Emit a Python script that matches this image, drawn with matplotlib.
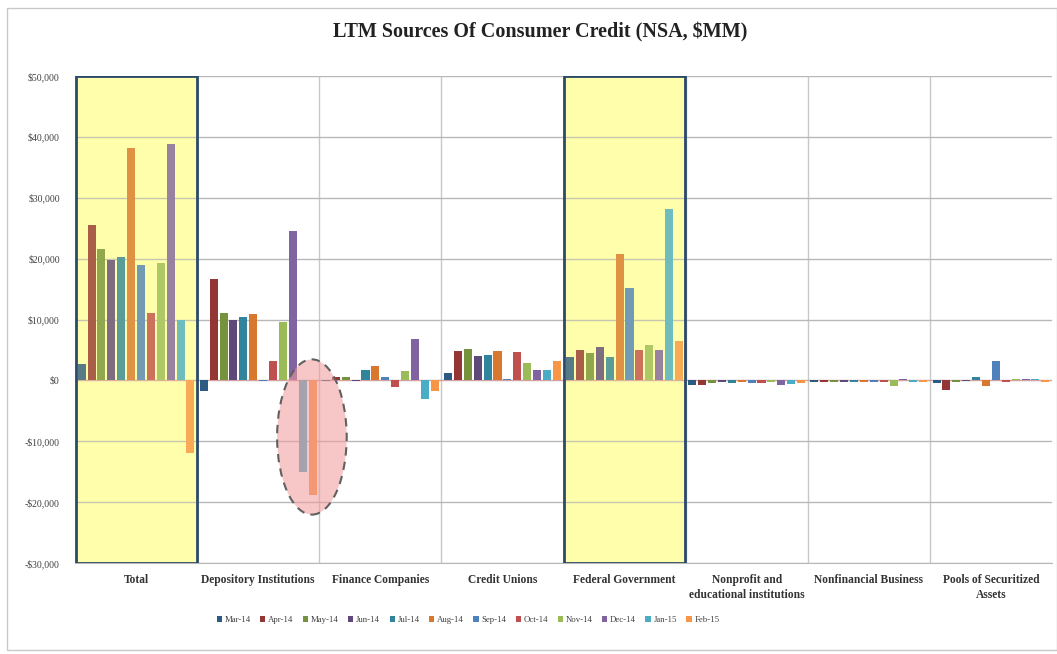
import numpy as np
import matplotlib
matplotlib.use('Agg')
import matplotlib.pyplot as plt
from matplotlib.patches import Rectangle, Ellipse

# data ($MM)
categories = ['Total', 'Depository Institutions', 'Finance Companies', 'Credit Unions',
              'Federal Government', 'Nonprofit and\neducational institutions',
              'Nonfinancial Business', 'Pools of Securitized\nAssets']
months = ['Mar-14', 'Apr-14', 'May-14', 'Jun-14', 'Jul-14', 'Aug-14',
          'Sep-14', 'Oct-14', 'Nov-14', 'Dec-14', 'Jan-15', 'Feb-15']

total      = [2700, 25600, 21500, 19700, 20300, 38100, 18900, 11000, 19200, 38800, 9900, -12000]
depository = [-1700, 16600, 11000, 10000, 10400, 10900, -100, 3200, 9600, 24600, -15100, -18900]
finance    = [-100, 600, 500, -100, 1700, 2300, 500, -1100, 1600, 6800, -3100, -1700]
credit_un  = [1200, 4900, 5100, 4000, 4100, 4900, 200, 4600, 2900, 1700, 1700, 3200]
federal    = [3900, 5000, 4500, 5500, 3900, 20800, 15100, 5000, 5800, 5000, 28100, 6400]
nonprofit  = [-800, -700, -500, -300, -400, -300, -500, -500, -300, -800, -600, -400]
nonfin     = [-200, -200, -200, -200, -200, -200, -200, -200, -1000, 200, -200, -200]
pools      = [-400, -1500, -200, -100, 500, -1000, 3200, -200, 200, 300, 200, -200]

colors = ['#2C5A82', '#943634', '#76923C', '#5F497A', '#31849B', '#D8782E',
          '#4F81BD', '#C0504D', '#9BBB59', '#8064A2', '#4BACC6', '#F79646']

groups = [total, depository, finance, credit_un, federal, nonprofit, nonfin, pools]
values = np.array(groups)  # shape (8 categories, 12 months)

plt.rcParams['font.family'] = ['Liberation Serif', 'DejaVu Serif']

fig = plt.figure(figsize=(10.57, 6.54), dpi=100)
ax = fig.add_axes([75/1057, 91/654, (1052-75)/1057, (563-76)/654])

x = np.arange(len(categories))
slot = 0.081
for k in range(len(months)):
    ax.bar(x + (k - 5.5)*slot, values[:, k], width=0.066, color=colors[k],
           label=months[k], zorder=3)

ax.set_xlim(-0.5, 7.5)
ax.set_ylim(-30000, 50000)
ax.set_yticks(np.arange(-30000, 50001, 10000))
ax.set_yticklabels([('-$' if v < 0 else '$') + format(abs(v), ',') for v in range(-30000, 50001, 10000)],
                   fontsize=7, color='#404040')
ax.yaxis.grid(True, color='#b8b8b8', lw=1, zorder=0)
for b in np.arange(0.5, 7.5, 1):
    ax.axvline(b, color='#c8c8c8', lw=1, zorder=0)
ax.axhline(0, color='#d9a0a0', lw=0.8, zorder=2)

ax.set_xticks(x)
ax.set_xticklabels(categories, fontsize=8.3, fontweight='bold', color='#333333', linespacing=1.3)
ax.tick_params(axis='y', length=0, pad=11)
ax.tick_params(axis='x', length=0, pad=8)
for s in ['top', 'right', 'left']:
    ax.spines[s].set_visible(False)
ax.spines['bottom'].set_color('#b8b8b8')

# highlighted groups
for c in [0, 4]:
    ax.add_patch(Rectangle((c - 0.5, -30000), 1, 80000, facecolor='#FFFFB0',
                           edgecolor='none', zorder=1))
    ax.add_patch(Rectangle((c - 0.5, -30000), 1, 80000, facecolor='#FFFF99', alpha=0.2,
                           edgecolor='none', zorder=4))
    ax.add_patch(Rectangle((c - 0.5 + 0.005, -30000), 0.99, 80000, facecolor='none',
                           edgecolor='#2B4A6A', lw=2, zorder=5))

# circled bars
ax.add_patch(Ellipse((1.44, -9300), 0.57, 25500, facecolor='#F29A9A', alpha=0.55,
                     edgecolor='none', zorder=4))
ax.add_patch(Ellipse((1.44, -9300), 0.57, 25500, facecolor='none', edgecolor='#606060',
                     lw=1.5, linestyle=(0, (4, 3)), zorder=5))

fig.suptitle('LTM Sources Of Consumer Credit (NSA, $MM)', x=540/1057, y=1 - 32/654,
             va='center', fontsize=14.5, fontweight='bold', color='#222222')

leg = ax.legend(loc='center', bbox_to_anchor=(468/1057, 34/654), bbox_transform=fig.transFigure,
                ncol=12, fontsize=6.3, frameon=False, handlelength=0.6, handleheight=0.6,
                handletextpad=0.3, columnspacing=1.1)
for t in leg.get_texts():
    t.set_color('#404040')

fig.patches.append(Rectangle((7/1057, 4/654), 1 - 7/1057, 1 - 12/654, transform=fig.transFigure,
                             fill=False, edgecolor='#c8c8c8', lw=1))

plt.savefig('out.png', dpi=100)
